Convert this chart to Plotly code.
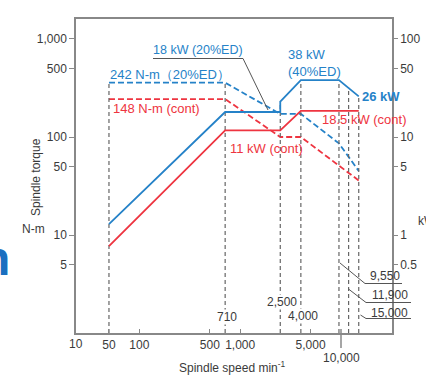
import plotly.graph_objects as go

# ---------------- data ----------------
# torque curves (N-m, left axis, dashed)
speed_torque_ed = [50, 710, 2500, 4000, 9550, 15000]
torque_ed = [358, 358, 172, 172, 86, 45]
speed_torque_cont = [50, 710, 2500, 4000, 15000]
torque_cont = [244, 244, 100, 100, 36]

# output curves (kW, right axis, solid)
speed_power_ed = [50, 710, 2500, 2500, 4000, 9550, 15000]
power_ed = [1.29, 18, 18, 22.9, 38, 38, 26]
speed_power_cont = [50, 710, 2500, 4000, 15000]
power_cont = [0.77, 11.7, 11.7, 18.5, 18.5]

# vertical guide lines (speed, top in kW)
guide_speed = [50, 710, 2500, 4000, 9550, 11900, 15000]
guide_top_kw = [35.8, 35.8, 22.9, 38, 38, 32, 26]

# tick labels
x_tickvals = [50, 100, 500, 1000, 5000]
x_ticktext = ["50", "100", "500", "1,000", "5,000"]
y_tickvals = [5, 10, 50, 100, 500, 1000]
y_ticktext = ["5", "10", "50", "100", "500", "1,000"]
y2_tickvals = [0.5, 1, 5, 10, 50, 100]
y2_ticktext = ["0.5", "1", "5", "10", "50", "100"]

BLUE = "#2582c8"
RED = "#ee3440"
GRAY = "#666666"
AX = "#888888"
TXT = "#3a3a3a"
FONT = "Liberation Sans, Arial, sans-serif"

W, H = 426, 375
L, R, T, B = 76, 34, 19, 42


def px(x):
    return (x - L) / (W - L - R)


def py(y):
    return (H - B - y) / (H - T - B)


fig = go.Figure()

# guides
gx, gy = [], []
for s, t in zip(guide_speed, guide_top_kw):
    gx += [s, s, None]
    gy += [0.1, t, None]
fig.add_trace(go.Scatter(x=gx, y=gy, yaxis="y2", mode="lines",
                         line=dict(color=GRAY, width=1.2, dash="4px,3px"),
                         hoverinfo="skip"))

fig.add_trace(go.Scatter(x=speed_torque_ed, y=torque_ed, mode="lines",
                         line=dict(color=BLUE, width=1.8, dash="6px,3px")))
fig.add_trace(go.Scatter(x=speed_torque_cont, y=torque_cont, mode="lines",
                         line=dict(color=RED, width=1.8, dash="6px,3px")))
fig.add_trace(go.Scatter(x=speed_power_ed, y=power_ed, yaxis="y2", mode="lines",
                         line=dict(color=BLUE, width=1.8)))
fig.add_trace(go.Scatter(x=speed_power_cont, y=power_cont, yaxis="y2", mode="lines",
                         line=dict(color=RED, width=1.8)))

annotations = []


def text(x, y, s, color=TXT, size=12, xanchor="center", yanchor="middle", bg=None, angle=0, align="center"):
    d = dict(x=px(x), y=py(y), xref="paper", yref="paper", text=s, showarrow=False,
             font=dict(color=color, size=size, family=FONT), xanchor=xanchor, yanchor=yanchor,
             textangle=angle, align=align, borderpad=0)
    if bg:
        d["bgcolor"] = bg
    annotations.append(d)


# curve labels
text(109, 75, "242 N-m（20%ED）", BLUE, 13, xanchor="left")
text(112, 108, "148 N-m (cont)", RED, 13, xanchor="left")
text(152, 50, "18 kW (20%ED)", BLUE, 12.5, xanchor="left")
text(287, 63, "38 kW<br>(40%ED)", BLUE, 13, xanchor="left", align="left")
text(361, 97, "<b>26 kW</b>", BLUE, 13, xanchor="left")
text(321, 119, "18.5 kW (cont)", RED, 13, xanchor="left")
text(229, 148, "11 kW (cont)", RED, 13, xanchor="left")

# speed labels
text(226.5, 317, "710", TXT, 12, bg="white")
text(281.5, 302, "2,500", TXT, 12, bg="white")
text(303, 316, "4,000", TXT, 12, bg="white")
text(401, 276, "9,550", TXT, 12, xanchor="right")
text(409, 295, "11,900", TXT, 12, xanchor="right")
text(409, 313, "15,000", TXT, 12, xanchor="right")

# axis labels
text(75.7, 344, "10", TXT, 12)
text(341, 358, "10,000", TXT, 12)
text(232, 367, "Spindle speed min<sup>-1</sup>", TXT, 12)
text(36, 177, "Spindle torque", TXT, 12, angle=-90)
text(33, 229, "N-m", TXT, 12)
text(417, 221, "kW", TXT, 12, xanchor="left")
text(11, 258, "<b>n</b>", "#1a6fc0", 48, xanchor="right")

shapes = []


def seg(x0, y0, x1, y1, color="#555555", width=1):
    shapes.append(dict(type="line", xref="paper", yref="paper", x0=px(x0), y0=py(y0),
                       x1=px(x1), y1=py(y1), line=dict(color=color, width=width)))


# 18 kW leader
seg(153, 58.5, 243, 58.5)
seg(243, 58.5, 268, 110)
# speed callouts
seg(340, 263, 365, 283.5)
seg(365, 283.5, 402, 283.5)
seg(348.5, 289, 366, 302.5)
seg(366, 302.5, 411, 302.5)
seg(360.5, 315, 366, 318.5)
seg(366, 318.5, 411, 318.5)
# long 10,000 tick
seg(341, 329, 341, 348, AX, 1.5)

fig.update_layout(
    width=W, height=H,
    margin=dict(l=L, r=R, t=T, b=B, pad=0, autoexpand=False),
    paper_bgcolor="white", plot_bgcolor="white",
    showlegend=False,
    font=dict(family=FONT, color=TXT, size=12),
    xaxis=dict(type="log", range=[1.372, 4.506], showgrid=False, zeroline=False,
               automargin=False,
               showline=True, linecolor=AX, linewidth=1.5, mirror=True,
               ticks="inside", ticklen=4, tickcolor=AX, tickwidth=1.2,
               tickvals=x_tickvals, ticktext=x_ticktext,
               tickfont=dict(size=12, color=TXT, family=FONT)),
    yaxis=dict(type="log", range=[0, 3.204], showgrid=False, zeroline=False,
               automargin=False,
               showline=True, linecolor=AX, linewidth=1.5,
               ticks="outside", ticklen=5, tickcolor=AX, tickwidth=1.2,
               tickvals=y_tickvals, ticktext=y_ticktext,
               tickfont=dict(size=12, color=TXT, family=FONT)),
    yaxis2=dict(type="log", range=[-1, 2.204], overlaying="y", side="right",
                showgrid=False, zeroline=False, automargin=False,
                showline=True, linecolor=AX, linewidth=1.5,
                ticks="outside", ticklen=4, tickcolor=AX, tickwidth=1.2,
                tickvals=y2_tickvals, ticktext=y2_ticktext,
                tickfont=dict(size=12, color=TXT, family=FONT)),
    annotations=annotations,
    shapes=shapes,
)

fig.write_html("out.html", config={"displayModeBar": False},
               post_script="document.body.style.margin='0';document.body.style.padding='0';document.body.style.overflow='hidden';")
